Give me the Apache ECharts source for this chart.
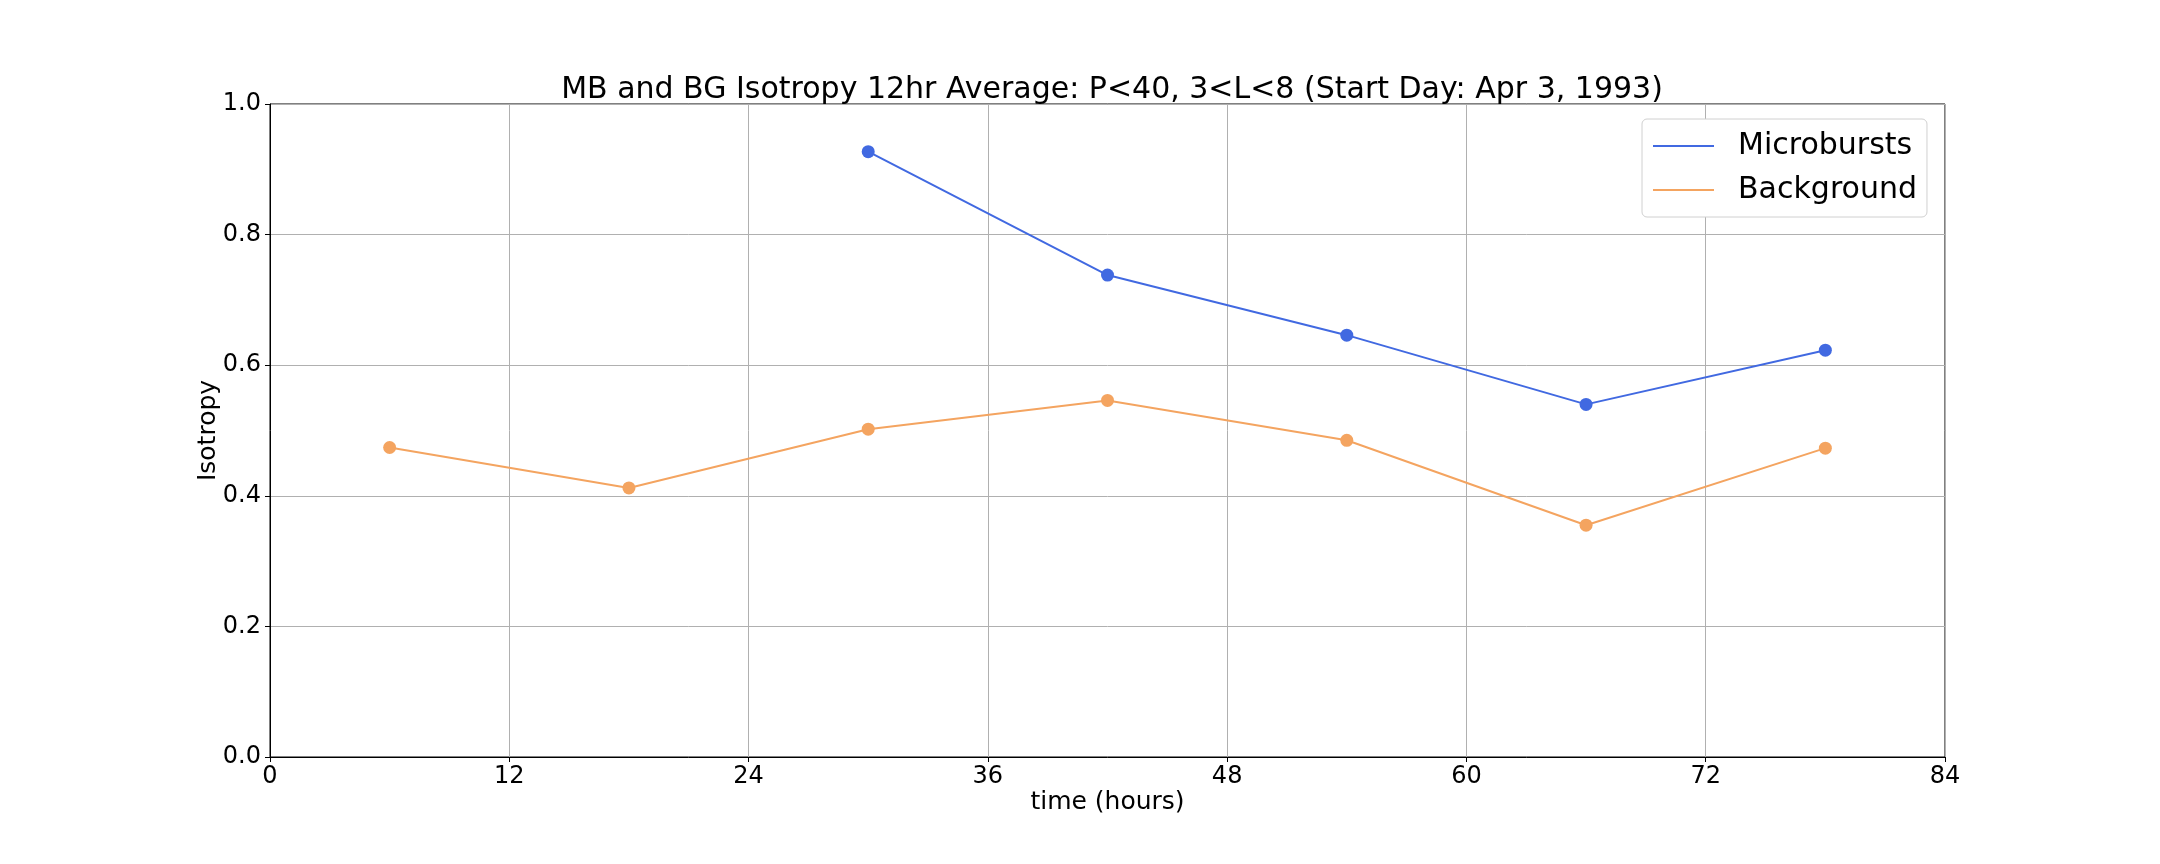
<!DOCTYPE html>
<html>
<head>
<meta charset="utf-8">
<script src="https://cdn.jsdelivr.net/npm/echarts@6/dist/echarts.min.js"></script>
<style>
html,body{margin:0;padding:0;background:#fff;}
#chart{width:2160px;height:864px;}
</style>
</head>
<body>
<div id="chart"></div>
<script>
// 12hr bin centres (hours from start day)
var hours = [6, 18, 30, 42, 54, 66, 78];
var microbursts = [null, null, 0.927, 0.738, 0.646, 0.540, 0.623];
var background = [0.474, 0.412, 0.502, 0.546, 0.485, 0.355, 0.473];
var xTicks = [0, 12, 24, 36, 48, 60, 72, 84];

function pairs(xs, ys){
    var out = [];
    for(var i=0;i<xs.length;i++){
        if(ys[i] !== null) out.push([xs[i], ys[i]]);
    }
    return out;
}

var font = 'DejaVu Sans';
var chart = echarts.init(document.getElementById('chart'));
var option = {
    animation:false,
    backgroundColor:'#fff',
    title:{
        text:'MB and BG Isotropy 12hr Average: P<40, 3<L<8 (Start Day: Apr 3, 1993)',
        left:1107,
        textAlign:'center',
        top:70,
        textStyle:{fontFamily:font, fontSize:30, fontWeight:'normal', color:'#000'}
    },
    legend:{
        orient:'vertical',
        left:1642,
        top:119,
        backgroundColor:'#fff',
        borderColor:'#d0d0d0',
        borderWidth:1,
        borderRadius:5,
        padding:[12,10,12,11],
        itemWidth:61,
        itemHeight:2,
        itemGap:14,
        icon:'rect',
        textStyle:{fontFamily:font, fontSize:30, color:'#000', padding:[0,0,0,19]},
        data:['Microbursts','Background']
    },
    grid:{
        left:270, top:104, width:1675, height:653,
        show:true, borderColor:'#000', borderWidth:1
    },
    xAxis:{
        type:'value',
        min:xTicks[0], max:xTicks[xTicks.length-1], interval:12,
        name:'time (hours)',
        nameLocation:'middle',
        nameGap:33,
        nameMoveOverlap:false,
        nameTextStyle:{fontFamily:font, fontSize:25, color:'#000'},
        axisLine:{show:true, lineStyle:{color:'#000', width:1}},
        axisTick:{show:true, length:5, lineStyle:{color:'#000'}},
        axisLabel:{fontFamily:font, fontSize:24, color:'#000', margin:8},
        splitLine:{show:true, lineStyle:{color:'#b0b0b0', width:1}}
    },
    yAxis:{
        type:'value',
        min:0, max:1, interval:0.2,
        name:'Isotropy',
        nameLocation:'middle',
        nameGap:49,
        nameMoveOverlap:false,
        nameTextStyle:{fontFamily:font, fontSize:25, color:'#000'},
        axisLine:{show:true, lineStyle:{color:'#000', width:1}},
        axisTick:{show:true, length:5, lineStyle:{color:'#000'}},
        axisLabel:{fontFamily:font, fontSize:24, color:'#000', margin:9,
            formatter:function(v){ return v.toFixed(1); }},
        splitLine:{show:true, lineStyle:{color:'#b0b0b0', width:1}}
    },
    series:[
        {
            name:'Microbursts',
            type:'line',
            data:pairs(hours, microbursts),
            symbol:'circle',
            symbolSize:13,
            color:'#4169E1',
            lineStyle:{width:2, color:'#4169E1'},
            itemStyle:{color:'#4169E1'}
        },
        {
            name:'Background',
            type:'line',
            data:pairs(hours, background),
            symbol:'circle',
            symbolSize:13,
            color:'#F4A460',
            lineStyle:{width:2, color:'#F4A460'},
            itemStyle:{color:'#F4A460'}
        }
    ]
};
chart.setOption(option);
</script>
</body>
</html>
